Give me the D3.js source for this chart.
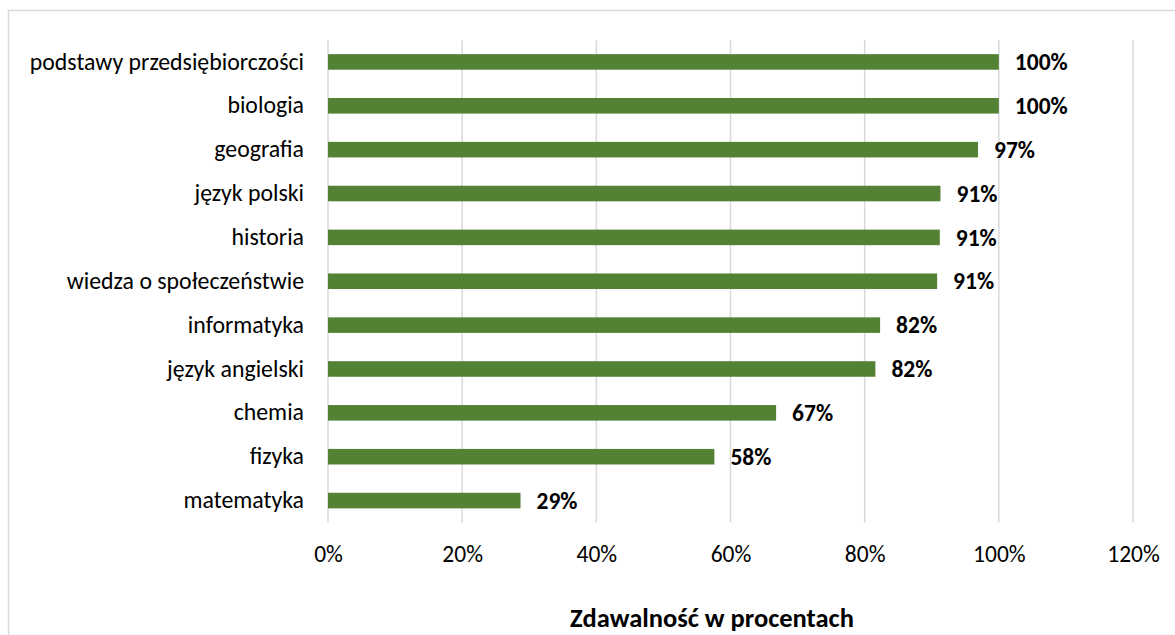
<!DOCTYPE html>
<html>
<head>
<meta charset="utf-8">
<script src="https://cdnjs.cloudflare.com/ajax/libs/d3/7.8.5/d3.min.js"></script>
<style>
    body { margin: 0; background: #fff; }
    svg text { font-family: Calibri, Carlito, Lato, sans-serif; fill: #000; }
</style>
</head>
<body>
<div id="chart"></div>
<script>

const subjects = ["podstawy przedsiębiorczości", "biologia", "geografia", "język polski", "historia",
    "wiedza o społeczeństwie", "informatyka", "język angielski", "chemia", "fizyka", "matematyka"];
const passRate = [100, 100, 96.9, 91.3, 91.2, 90.8, 82.3, 81.6, 66.8, 57.6, 28.7];
const xTicks = [0, 20, 40, 60, 80, 100, 120];
const axisTitle = "Zdawalność w procentach";

const width = 1175, height = 635;

const svg = d3.select("#chart")
    .append("svg")
    .attr("width", width)
    .attr("height", height);

// frame of the chart (cut off at right and bottom)
svg.append("rect")
    .attr("x", 8.5)
    .attr("y", 10.5)
    .attr("width", width)
    .attr("height", height)
    .attr("fill", "none")
    .attr("stroke", "#d9d9d9")
    .attr("stroke-width", 1.5);

const xScale = d3.scaleLinear()
    .domain([0, 120])
    .range([328, 1133]);

const yScale = d3.scaleBand()
    .domain(subjects)
    .range([40, 522.5])
    .paddingInner(0.645)
    .paddingOuter(0.3225);

/* gridlines */
svg.append("g")
    .selectAll("line")
    .data(xTicks)
    .enter()
    .append("line")
    .attr("x1", d => xScale(d))
    .attr("x2", d => xScale(d))
    .attr("y1", 40)
    .attr("y2", 522.5)
    .attr("stroke", "#d9d9d9")
    .attr("stroke-width", 1.5);

/* x axis */
const xAxis = svg.append("g")
    .attr("transform", "translate(0,522.5)")
    .call(d3.axisBottom(xScale)
        .tickValues(xTicks)
        .tickSize(0)
        .tickFormat(d => d + "%"));
xAxis.select(".domain").remove();
xAxis.selectAll("text")
    .attr("y", 39.5)
    .attr("dy", null)
    .style("font-size", "23.5px")
    .attr("fill", "#000");

/* y axis labels */
const yAxis = svg.append("g")
    .attr("transform", "translate(328,0)")
    .call(d3.axisLeft(yScale).tickSize(0).tickPadding(24));
yAxis.select(".domain").remove();
yAxis.selectAll("text")
    .style("font-size", "23.8px")
    .attr("fill", "#000");

/* bars */
svg.selectAll(".bar")
    .data(subjects)
    .enter()
    .append("rect")
    .attr("class", "bar")
    .attr("x", xScale(0))
    .attr("y", d => yScale(d))
    .attr("width", (d, i) => xScale(passRate[i]) - xScale(0))
    .attr("height", yScale.bandwidth())
    .attr("fill", "#548235");

/* value labels */
svg.selectAll(".value")
    .data(subjects)
    .enter()
    .append("text")
    .attr("class", "value")
    .attr("x", (d, i) => xScale(passRate[i]) + 16)
    .attr("y", d => yScale(d) + yScale.bandwidth() / 2)
    .attr("dy", "0.35em")
    .style("font-size", "23.5px")
    .style("font-weight", "bold")
    .text((d, i) => Math.round(passRate[i]) + "%");

/* axis title */
svg.append("text")
    .attr("x", 712)
    .attr("y", 627)
    .attr("text-anchor", "middle")
    .style("font-size", "26.5px")
    .style("font-weight", "bold")
    .text(axisTitle);

</script>
</body>
</html>
